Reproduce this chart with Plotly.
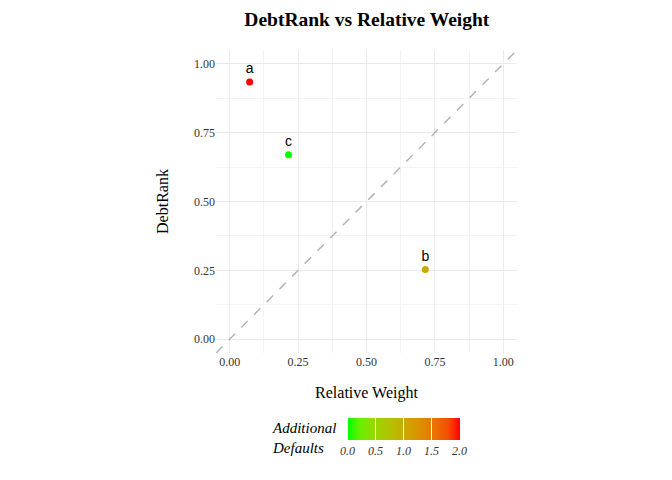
import numpy as np
import plotly.graph_objects as go

# ---- data ----
labels = ["a", "b", "c"]
relative_weight = [0.073, 0.715, 0.215]
debtrank = [0.934, 0.253, 0.670]
additional_defaults = [2.0, 1.0, 0.0]
tick_vals = [0.0, 0.25, 0.5, 0.75, 1.0]
tick_text = ["0.00", "0.25", "0.50", "0.75", "1.00"]
cb_vals = [0.0, 0.5, 1.0, 1.5, 2.0]
cb_text = ["0.0", "0.5", "1.0", "1.5", "2.0"]
axis_lim = [-0.05, 1.05]

# ---- Lab-interpolated green->red gradient (like ggplot scale_colour_gradient) ----
def srgb_to_lin(c):
    c = np.asarray(c, float)
    return np.where(c <= 0.04045, c / 12.92, ((c + 0.055) / 1.055) ** 2.4)

def lin_to_srgb(c):
    c = np.clip(c, 0, 1)
    return np.where(c <= 0.0031308, c * 12.92, 1.055 * c ** (1 / 2.4) - 0.055)

M = np.array([[0.4124, 0.3576, 0.1805], [0.2126, 0.7152, 0.0722], [0.0193, 0.1192, 0.9505]])
Minv = np.linalg.inv(M)
white = M @ np.ones(3)

def f(t):
    d = 6 / 29
    return np.where(t > d ** 3, np.cbrt(t), t / (3 * d * d) + 4 / 29)

def finv(t):
    d = 6 / 29
    return np.where(t > d, t ** 3, 3 * d * d * (t - 4 / 29))

def rgb_to_lab(rgb):
    xyz = M @ srgb_to_lin(rgb) / white
    fx, fy, fz = f(xyz)
    return np.array([116 * fy - 16, 500 * (fx - fy), 200 * (fy - fz)])

def lab_to_rgb(lab):
    L, a, b = lab
    fy = (L + 16) / 116
    fx = fy + a / 500
    fz = fy - b / 200
    xyz = np.array([finv(fx), finv(fy), finv(fz)]) * white
    return lin_to_srgb(Minv @ xyz)

lo = rgb_to_lab([0, 1, 0])
hi = rgb_to_lab([1, 0, 0])
scale = []
for t in np.linspace(0, 1, 11):
    r, g, b = lab_to_rgb(lo + (hi - lo) * t)
    scale.append([float(t), "rgb(%d,%d,%d)" % (round(r * 255), round(g * 255), round(b * 255))])

serif = "Liberation Serif, Times New Roman, serif"

fig = go.Figure()
fig.add_trace(go.Scatter(
    x=axis_lim, y=axis_lim, mode="lines",
    line=dict(color="#B3B3B3", width=1.5, dash="dash"),
    hoverinfo="skip", showlegend=False,
))
fig.add_trace(go.Scatter(
    x=relative_weight, y=debtrank, mode="markers+text",
    text=labels, textposition="top center",
    textfont=dict(family="Liberation Sans, Arial, sans-serif", size=14, color="black"),
    marker=dict(
        size=7, color=additional_defaults, colorscale=scale, cmin=0, cmax=2,
        showscale=True,
        colorbar=dict(
            orientation="h", x=0.623, xanchor="center", y=-0.182, yanchor="top",
            len=132, lenmode="pixels", thickness=22, thicknessmode="pixels",
            outlinewidth=0, tickvals=cb_vals, ticktext=cb_text,
            ticks="inside", ticklen=22, tickcolor="white", tickwidth=1,
            tickfont=dict(family=serif, size=12, color="#333333", style="italic"),
            title=dict(text=""),
        ),
    ),
    showlegend=False,
))

fig.add_annotation(
    x=0.18, y=-0.214, xref="paper", yref="paper", xanchor="left", yanchor="top",
    text="Additional<br>Defaults", showarrow=False, align="left",
    font=dict(family=serif, size=15, color="black", style="italic"),
)

axis_common = dict(
    range=axis_lim, tickvals=tick_vals, ticktext=tick_text, showline=False, zeroline=False,
    showgrid=True, gridcolor="#EBEBEB", gridwidth=1, ticks="",
    tickfont=dict(family=serif, size=12, color="#333333"),
    minor=dict(showgrid=True, gridcolor="#F3F3F3", gridwidth=0.8, dtick=0.125, tick0=0.125),
)
fig.update_xaxes(**axis_common, title=dict(text="Relative Weight", standoff=18,
                 font=dict(family=serif, size=16, color="black")))
fig.update_yaxes(**axis_common, title=dict(text="DebtRank", standoff=21,
                 font=dict(family=serif, size=16, color="black")))

fig.update_layout(
    width=672, height=480,
    margin=dict(l=208, r=163, t=42, b=135, autoexpand=False),
    paper_bgcolor="white", plot_bgcolor="white",
    title=dict(text="<b>DebtRank vs Relative Weight</b>", x=0.534, xanchor="center",
               y=0.976, yanchor="middle",
               font=dict(family=serif, size=19.5, color="black")),
    hovermode=False,
)

fig.write_html("out.html")
